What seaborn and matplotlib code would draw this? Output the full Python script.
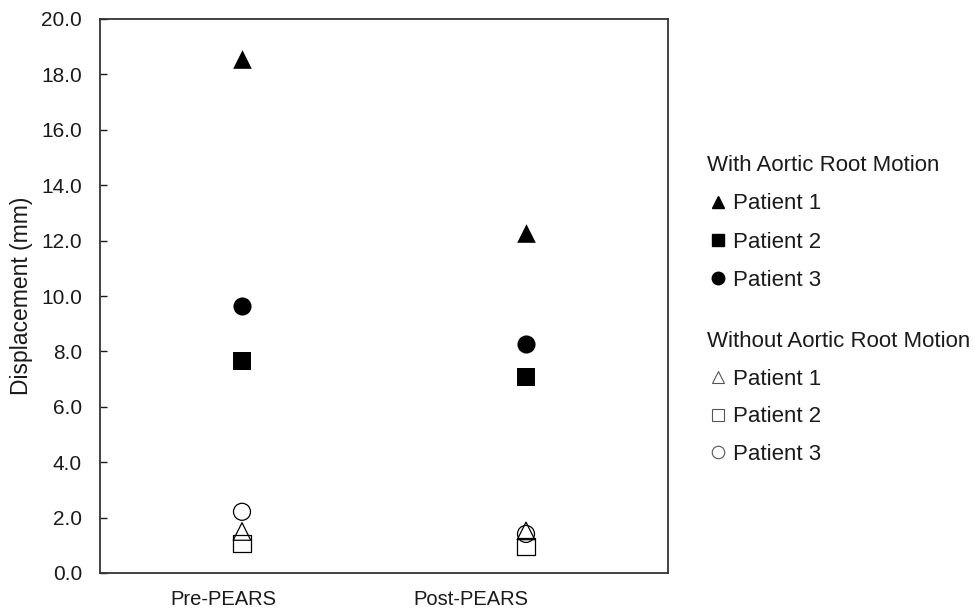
import matplotlib
matplotlib.use("Agg")
import matplotlib.pyplot as plt
from matplotlib.lines import Line2D
import seaborn as sns
import pandas as pd

sns.set_theme(style="white")
plt.rcParams['font.family'] = ['Liberation Sans', 'DejaVu Sans']

categories = ["Pre-PEARS", "Post-PEARS"]
patients = ["Patient 1", "Patient 2", "Patient 3"]
with_motion = {"Patient 1": [18.55, 12.29], "Patient 2": [7.64, 7.09], "Patient 3": [9.64, 8.27]}
without_motion = {"Patient 1": [1.50, 1.52], "Patient 2": [1.05, 0.95], "Patient 3": [2.21, 1.41]}
cat_pos = [1.0, 3.0]
label_pos = [0.87, 2.61]
markers = {"Patient 1": "^", "Patient 2": "s", "Patient 3": "o"}
sizes = {"Patient 1": 180, "Patient 2": 150, "Patient 3": 170}
hsizes = {"Patient 1": 160, "Patient 2": 150, "Patient 3": 150}

rows = []
for grp, d in (("with", with_motion), ("without", without_motion)):
    for p in patients:
        for x, v in zip(cat_pos, d[p]):
            rows.append({"group": grp, "patient": p, "x": x, "y": v})
df = pd.DataFrame(rows)

fig = plt.figure(figsize=(9.74, 6.11), dpi=100)
ax = fig.add_axes([100/974, 1 - 573/611, 568/974, 554/611])

for p in patients:
    sub = df[(df.group == "with") & (df.patient == p)]
    sns.scatterplot(data=sub, x="x", y="y", marker=markers[p], s=sizes[p],
                    color="black", edgecolor="black", linewidth=0, ax=ax, legend=False, zorder=3)
for p in patients:
    sub = df[(df.group == "without") & (df.patient == p)]
    sns.scatterplot(data=sub, x="x", y="y", marker=markers[p], s=hsizes[p],
                    facecolor="none", edgecolor="black", linewidth=0.9, ax=ax, legend=False, zorder=3)

ax.set_xlim(0, 4)
ax.set_ylim(0, 20)
ax.set_yticks([0, 2, 4, 6, 8, 10, 12, 14, 16, 18, 20])
ax.set_yticklabels([f"{v:.1f}" for v in ax.get_yticks()])
ax.set_xticks(label_pos)
ax.set_xticklabels(categories)
ax.tick_params(axis="x", length=0, labelsize=14.5, pad=12, colors="#1a1a1a")
ax.yaxis.set_tick_params(which="major", direction="in", length=5, width=1, labelsize=15, pad=13,
                         colors="#1a1a1a", left=True, right=False)
ax.set_xlabel("")
ax.set_ylabel("Displacement (mm)", fontsize=16.5, color="#1a1a1a")
ax.yaxis.set_label_coords(-0.118, 0.5)
for s in ax.spines.values():
    s.set_visible(True)
    s.set_color("#333333")
    s.set_linewidth(1.3)

def handles(filled):
    hs = []
    for p in patients:
        if filled:
            hs.append(Line2D([], [], linestyle="none", marker=markers[p], markersize=9,
                             markerfacecolor="black", markeredgecolor="black"))
        else:
            hs.append(Line2D([], [], linestyle="none", marker=markers[p], markersize=9,
                             markerfacecolor="none", markeredgecolor="#555555", markeredgewidth=0.8))
    return hs

for filled, title, ytop, sp, x0 in ((True, "With Aortic Root Motion", 155, 0.78, 707),
                                     (False, "Without Aortic Root Motion", 331, 0.75, 707)):
    leg = fig.legend(handles(filled), patients, title=title, loc="upper left",
                     bbox_to_anchor=(x0/974, 1 - ytop/611), frameon=False, fontsize=16,
                     title_fontsize=16, handlelength=1.0, handletextpad=0.15,
                     labelspacing=sp, alignment="left", borderaxespad=0, borderpad=0)
    leg.get_title().set_color("#1a1a1a")
    for t in leg.get_texts():
        t.set_color("#1a1a1a")

fig.savefig("out.png", dpi=100, facecolor="white")
